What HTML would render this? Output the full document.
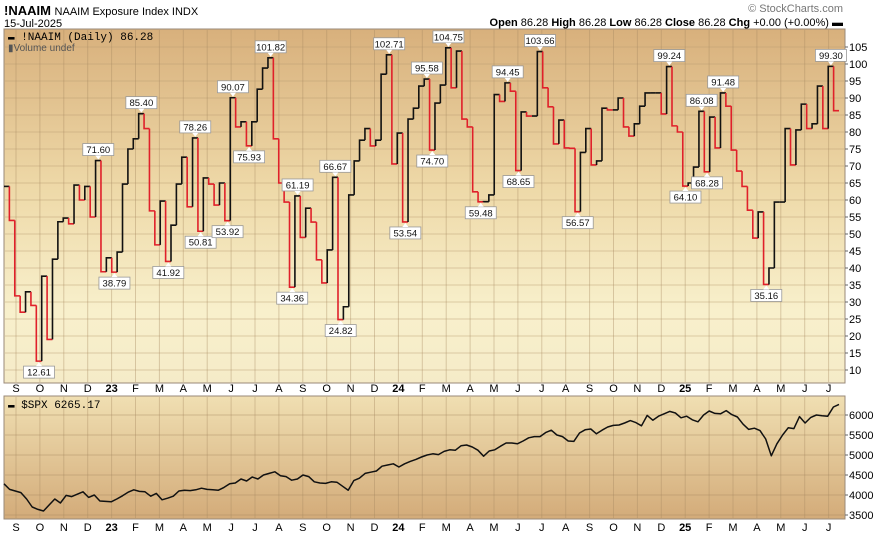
<!DOCTYPE html>
<html><head><meta charset="utf-8"><style>
html,body{margin:0;padding:0;background:#fff;width:876px;height:536px;overflow:hidden}
svg{display:block;font-family:"Liberation Sans",sans-serif}
</style></head><body>
<svg id="chart" width="876" height="536" viewBox="0 0 876 536" xmlns="http://www.w3.org/2000/svg">
<defs>
<linearGradient id="gTop" x1="0" y1="0" x2="0" y2="1">
<stop offset="0" stop-color="#d8b07c"/><stop offset="0.45" stop-color="#eed9a8"/><stop offset="0.8" stop-color="#f8f0cc"/><stop offset="1" stop-color="#f5ebc8"/>
</linearGradient>
<linearGradient id="gBot" x1="0" y1="0" x2="0" y2="1">
<stop offset="0" stop-color="#f0dfb2"/><stop offset="1" stop-color="#d3ab79"/>
</linearGradient>
</defs>
<g>
<text x="4" y="15" font-size="13" font-weight="bold">!NAAIM <tspan font-weight="normal" font-size="11">NAAIM Exposure Index  INDX</tspan></text>
<text x="4" y="27" font-size="11">15-Jul-2025</text>
<text x="843" y="12" font-size="11" fill="#777" text-anchor="end">© StockCharts.com</text>
<text x="843" y="26" font-size="11" text-anchor="end"><tspan font-weight="bold">Open</tspan> 86.28 <tspan font-weight="bold">High</tspan> 86.28 <tspan font-weight="bold">Low</tspan> 86.28 <tspan font-weight="bold">Close</tspan> 86.28 <tspan font-weight="bold">Chg</tspan> +0.00 (+0.00%) ▬</text>
</g>
<rect x="4" y="29" width="841" height="354" fill="url(#gTop)" stroke="#9a8a78"/>
<rect x="4" y="396" width="841" height="123" fill="url(#gBot)" stroke="#9a8a78"/>
<g id="grid"></g>
<g id="series"></g>
<g id="ann"></g>
<g id="axes"></g>
<text x="8" y="40" font-size="11" font-family="Liberation Mono, monospace">▬ !NAAIM (Daily) 86.28</text>
<text x="8" y="51" font-size="10" fill="#555">▮Volume undef</text>
<text x="8" y="408" font-size="11" font-family="Liberation Mono, monospace">▬ $SPX 6265.17</text>
</svg>
<script>
const naaim = [64,54,31.8,27,33,29,12.61,37.6,19,42.6,53.6,54.7,53,64.4,60,64,55,71.6,38.9,43,38.79,44.7,64.7,75,78,85.4,81,56.8,46.8,59.7,41.92,52.6,64.7,72.6,58,78.26,50.81,66.5,64.7,58.5,
65,53.92,90.07,81.5,83,75.93,83,92.6,98.8,101.82,78,65,59.4,34.36,61.19,49,57.6,53.5,42.4,35.6,45.3,66.67,24.82,28.6,61.5,71.5,77.6,81,75.9,77.6,97,102.71,70.6,79.7,53.54,83.8,87,
93.5,95.58,74.7,88.5,93.8,104.75,93,103.8,83.8,81.5,62.4,59.48,59.5,61.5,91,89,94.45,92,68.65,85.9,84.7,84.7,103.66,93,87.4,76.5,83.5,75.3,75.2,56.57,74,81,70.3,71.5,87,86.5,86.5,90,81.5,78.8,
82.4,87.6,91.5,91.5,91.5,85.3,99.24,81.8,80,64.1,65,69.7,86.08,68.28,84.4,75.3,91.48,87.6,74.7,68.5,64,57,48.8,56.5,35.16,40,59.4,59.4,81,70.3,80.6,88.2,81,82.4,93.5,81,99.3,86.28];
const annIdx = [6,17,20,25,30,35,36,41,42,45,49,53,54,61,62,71,74,78,79,82,88,93,95,99,106,123,126,129,130,133,141,153];
const annSide = ['b','a','b','a','b','a','b','b','a','b','a','b','a','a','b','a','b','a','b','a','b','a','b','a','b','a','b','a','b','a','b','a'];
const spx = [4280,4140,4100,4060,3900,3700,3640,3600,3750,3900,3800,3990,3960,4020,4080,3940,4000,3850,3840,3830,3900,3980,4070,4130,4090,4080,3970,4040,3880,3920,3970,4100,4120,4110,4130,4170,4140,4130,4120,4190,4280,4300,4400,4350,4450,4400,4500,4540,4580,4480,4460,4370,4400,4500,4460,4330,4300,4290,4330,4320,4220,4120,4360,4420,4540,4570,4600,4720,4750,4780,4700,4780,4840,4890,4950,5000,5030,5010,5090,5130,5120,5230,5250,5200,5120,4970,5100,5130,5220,5300,5300,5280,5350,5430,5460,5460,5560,5620,5500,5460,5350,5340,5550,5630,5650,5530,5620,5700,5740,5750,5800,5860,5810,5730,5990,5870,5970,6030,6090,6050,5930,5970,5880,5830,6000,6100,6040,6030,6110,6010,5950,5770,5640,5670,5610,5400,4980,5280,5500,5680,5660,5960,5800,5940,6000,5980,5970,6200,6265];
const months = ['S','O','N','D','23','F','M','A','M','J','J','A','S','O','N','D','24','F','M','A','M','J','J','A','S','O','N','D','25','F','M','A','M','J','J'];
const naaimTicks = [10,15,20,25,30,35,40,45,50,55,60,65,70,75,80,85,90,95,100,105];
const spxTicks = [3500,4000,4500,5000,5500,6000];

const NS='http://www.w3.org/2000/svg';
function el(t,a,p){const e=document.createElementNS(NS,t);for(const k in a)e.setAttribute(k,a[k]);p.appendChild(e);return e;}
const X0=4,X1=839;
const stepW=(X1-X0)/naaim.length;
const xN=i=>X0+i*stepW;
const yN=v=>370-(v-10)*3.4;
const xS=i=>X0+i*(X1-X0)/(spx.length-1);
const yS=v=>415+(6000-v)*0.04;
const xM=m=>16+m*23.9;
const grid=document.getElementById('grid'),series=document.getElementById('series'),ann=document.getElementById('ann'),axes=document.getElementById('axes');

naaimTicks.forEach(v=>{const y=yN(v);
 const l=el('line',{x1:5,x2:844,y1:y,y2:y,stroke:'#b89c72','stroke-opacity':0.45},grid);
 
 
 const t=el('text',{x:849,y:y+4,'font-size':11},axes);t.textContent=v;
 
 
 el('line',{x1:845,x2:848,y1:y,y2:y,stroke:'#666'},axes);
});
spxTicks.forEach(v=>{const y=yS(v);
 const l=el('line',{x1:5,x2:844,y1:y,y2:y,stroke:'#a88a62','stroke-opacity':0.45},grid);
 
 
 const t=el('text',{x:849,y:y+4,'font-size':11},axes);t.textContent=v;
 
 
 el('line',{x1:845,x2:848,y1:y,y2:y,stroke:'#666'},axes);
});
months.forEach((m,i)=>{const x=xM(i);
 [[30,382],[397,518]].forEach(r=>{const l=el('line',{x1:x,x2:x,y1:r[0],y2:r[1],stroke:'#a88a62','stroke-opacity':0.4},grid);
  
  });
 [392,531].forEach(y=>{const t=el('text',{x:x,y:y,'font-size':11,'text-anchor':'middle','font-weight':/\d/.test(m)?'bold':'normal'},axes);t.textContent=m;
  
  });
});
for(let i=0;i<naaim.length;i++){
 const v=naaim[i],prev=i>0?naaim[i-1]:v;
 const col=v<prev?'#e0202a':'#111';
 let d='M'+xN(i)+','+yN(prev)+'L'+xN(i)+','+yN(v)+'L'+(xN(i)+stepW)+','+yN(v);
 const p=el('path',{d:d,stroke:col,'stroke-width':1.6,fill:'none'},series);
 
 
}
let d='';spx.forEach((v,i)=>{d+=(i?'L':'M')+xS(i).toFixed(1)+','+yS(v).toFixed(1);});
const sp=el('path',{d:d,stroke:'#111','stroke-width':1.5,fill:'none','stroke-linejoin':'round'},series);


annIdx.forEach((idx,k)=>{
 const v=naaim[idx];if(v===undefined)return;
 const cx=xN(idx)+stepW/2,y=yN(v),txt=v.toFixed(2),w=31,h=12;
 const g=el('g',{},ann);
 
 
 let by,tri;
 if(annSide[k]==='a'){by=y-5-h;tri=`${cx-3},${by+h} ${cx+3},${by+h} ${cx},${y-1}`;}
 else{by=y+5;tri=`${cx-3},${by} ${cx+3},${by} ${cx},${y+1}`;}
 el('rect',{x:cx-w/2,y:by,width:w,height:h,fill:'#fff',stroke:'#999','stroke-width':0.8},g);
 el('polygon',{points:tri,fill:'#fff'},g);
 const t=el('text',{x:cx,y:by+9.5,'font-size':9.5,'text-anchor':'middle',fill:'#111'},g);t.textContent=txt;
});
</script>
</body></html>
